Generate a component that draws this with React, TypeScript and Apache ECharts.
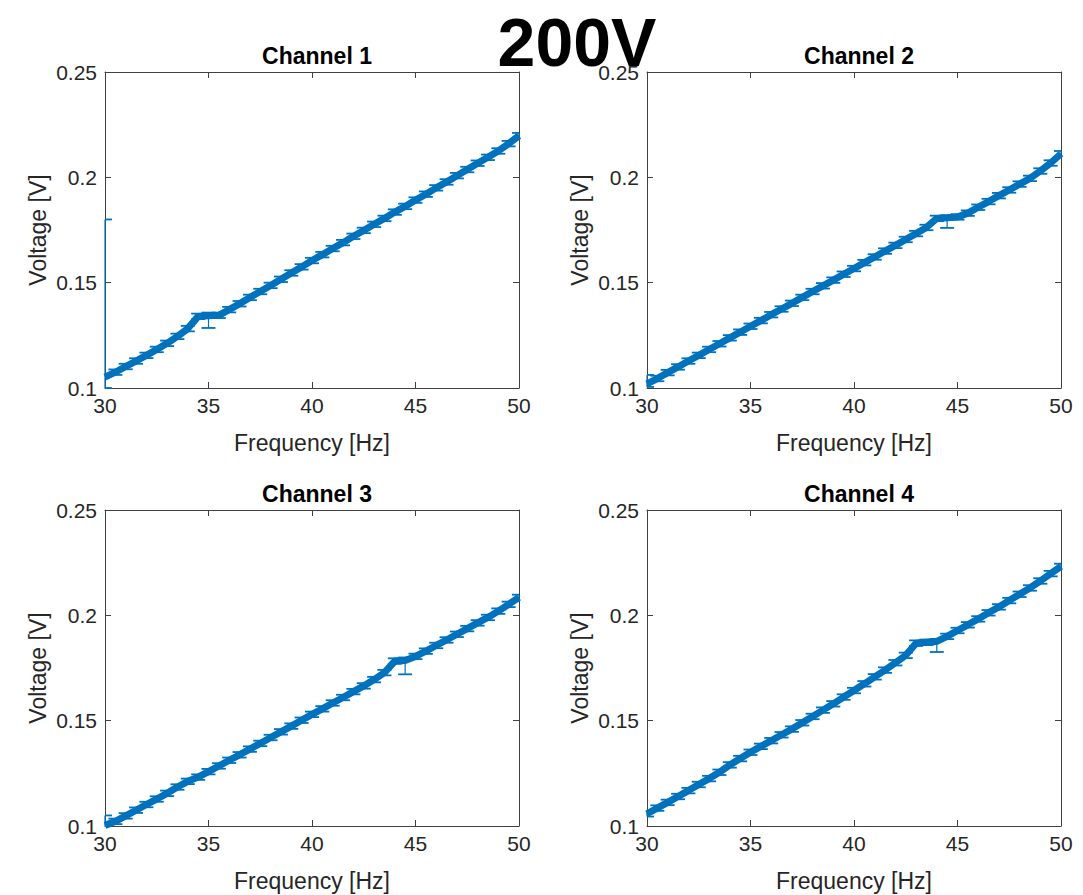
import React, { useEffect, useRef } from "react";
import * as echarts from "echarts";

// Frequency samples [Hz]
const FREQ = [
  30, 30.5, 31, 31.5, 32, 32.5, 33, 33.5, 34, 34.5, 35, 35.5, 36, 36.5, 37, 37.5, 38, 38.5, 39, 39.5,
  40, 40.5, 41, 41.5, 42, 42.5, 43, 43.5, 44, 44.5, 45, 45.5, 46, 46.5, 47, 47.5, 48, 48.5, 49, 49.5, 50,
];

// Measured voltage [V] per channel
const CH1 = [
  0.1052, 0.1075, 0.1102, 0.1128, 0.1155, 0.1183, 0.1212, 0.1245, 0.1282, 0.134, 0.1343, 0.1345, 0.1372,
  0.14, 0.143, 0.1458, 0.1487, 0.1516, 0.1546, 0.1575, 0.1605, 0.1633, 0.1662, 0.169, 0.172, 0.1748,
  0.1777, 0.1805, 0.1835, 0.1862, 0.1892, 0.192, 0.195, 0.1978, 0.2008, 0.2037, 0.2067, 0.2095, 0.2125,
  0.216, 0.2198,
];
const CH2 = [
  0.102, 0.1045, 0.1073, 0.11, 0.1128, 0.1155, 0.1183, 0.121, 0.1238, 0.1265, 0.1293, 0.132, 0.1348,
  0.1375, 0.1402, 0.143, 0.1458, 0.1485, 0.1512, 0.154, 0.1567, 0.1595, 0.1622, 0.165, 0.1677, 0.1705,
  0.1733, 0.1762, 0.1805, 0.1808, 0.1812, 0.183, 0.1858, 0.1885, 0.1913, 0.194, 0.1968, 0.1995, 0.203,
  0.2068, 0.2112,
];
const CH3 = [
  0.1003, 0.1022, 0.1048, 0.1075, 0.1102, 0.1128, 0.1155, 0.1185, 0.1212, 0.1232, 0.1258, 0.1285, 0.1312,
  0.1338, 0.1365, 0.1392, 0.142, 0.1447, 0.1474, 0.1502, 0.153, 0.1556, 0.1584, 0.161, 0.1638, 0.1665,
  0.1695, 0.1728, 0.1783, 0.1786, 0.1805, 0.183, 0.1857, 0.1883, 0.191, 0.1937, 0.1964, 0.199, 0.202,
  0.2052, 0.2085,
];
const CH4 = [
  0.1058, 0.1085, 0.1112, 0.114, 0.1168, 0.1197, 0.1225, 0.1255, 0.129, 0.132, 0.135, 0.1378, 0.1405,
  0.1433, 0.146, 0.149, 0.152, 0.155, 0.158, 0.1612, 0.1643, 0.1675, 0.1708, 0.174, 0.1775, 0.181,
  0.1868, 0.1872, 0.1876, 0.19, 0.1928, 0.1955, 0.1983, 0.2012, 0.204, 0.207, 0.21, 0.213, 0.2163,
  0.2198, 0.2232,
];

// Typical error bar half-height [V]
const DEFAULT_ERR = 0.0013;

// Wider error bars: [freq, low, high]
const CH1_WIDE = [
  [30, 0.1, 0.18],
  [35, 0.1285, 0.1358],
];
const CH2_WIDE = [
  [30, 0.1005, 0.1062],
  [44.5, 0.176, 0.182],
];
const CH3_WIDE = [
  [30, 0.1, 0.105],
  [44.5, 0.172, 0.18],
];
const CH4_WIDE = [
  [44, 0.1826, 0.1888],
];

const TITLES = ["Channel 1", "Channel 2", "Channel 3", "Channel 4"];
const X_TICKS = [30, 35, 40, 45, 50];
const Y_TICKS = [0.1, 0.15, 0.2, 0.25];

const BLUE = "#0072BD";
const AXIS = "#404040";
const TEXT = "#262626";
const FONT = "'Liberation Sans', Arial, Helvetica, sans-serif";

const GRIDS = [
  { left: 105, top: 72 },
  { left: 647, top: 72 },
  { left: 105, top: 510 },
  { left: 647, top: 510 },
];
const GW = 414;
const GH = 316;

function buildErr(values: number[], wide: number[][]) {
  return FREQ.map((f, i) => {
    const w = wide.find((r) => r[0] === f);
    if (w) return [f, values[i], w[1], w[2]];
    return [f, values[i], values[i] - DEFAULT_ERR, values[i] + DEFAULT_ERR];
  });
}

export default function App() {
  const ref = useRef<HTMLDivElement>(null);
  useEffect(() => {
    if (!ref.current) return;
    const chart = echarts.init(ref.current, undefined, { renderer: "svg" });
    const channels = [CH1, CH2, CH3, CH4];
    const wides = [CH1_WIDE, CH2_WIDE, CH3_WIDE, CH4_WIDE];

    const grid: any[] = [];
    const xAxis: any[] = [];
    const yAxis: any[] = [];
    const series: any[] = [];
    const title: any[] = [];

    GRIDS.forEach((g, i) => {
      grid.push({ left: g.left, top: g.top, width: GW, height: GH, containLabel: false });
      const common = {
        gridIndex: i,
        type: "value",
        splitLine: { show: false },
        axisLine: { show: true, onZero: false, lineStyle: { color: AXIS, width: 1 } },
        axisTick: { show: true, inside: true, length: 6, lineStyle: { color: AXIS } },
      };
      xAxis.push({
        ...common,
        position: "bottom",
        min: X_TICKS[0],
        max: X_TICKS[X_TICKS.length - 1],
        interval: 5,
        axisLabel: { show: true, fontSize: 21, color: TEXT, fontFamily: FONT, margin: 7 },
        name: "Frequency [Hz]",
        nameLocation: "middle",
        nameGap: 43,
        nameTextStyle: { fontSize: 23, color: TEXT, fontFamily: FONT },
      });
      xAxis.push({
        ...common,
        position: "top",
        min: X_TICKS[0],
        max: X_TICKS[X_TICKS.length - 1],
        interval: 5,
        axisLabel: { show: false },
      });
      yAxis.push({
        ...common,
        position: "left",
        min: Y_TICKS[0],
        max: Y_TICKS[Y_TICKS.length - 1],
        interval: 0.05,
        axisLabel: {
          show: true,
          fontSize: 21,
          color: TEXT,
          fontFamily: FONT,
          margin: 8,
          formatter: (v: number) => String(+v.toFixed(2)),
        },
        name: "Voltage [V]",
        nameLocation: "middle",
        nameGap: 56,
        nameRotate: 90,
        nameTextStyle: { fontSize: 23, color: TEXT, fontFamily: FONT },
      });
      yAxis.push({
        ...common,
        position: "right",
        min: Y_TICKS[0],
        max: Y_TICKS[Y_TICKS.length - 1],
        interval: 0.05,
        axisLabel: { show: false },
      });

      title.push({
        text: TITLES[i],
        left: g.left + GW / 2,
        top: g.top - 33,
        textAlign: "center",
        textStyle: { fontSize: 23, fontWeight: "bold", color: "#000", fontFamily: FONT },
      });

      const vals = channels[i];
      series.push({
        type: "line",
        xAxisIndex: 2 * i,
        yAxisIndex: 2 * i,
        data: FREQ.map((f, k) => [f, vals[k]]),
        showSymbol: false,
        lineStyle: { color: BLUE, width: 7 },
        itemStyle: { color: BLUE },
        z: 2,
      });
      series.push({
        type: "custom",
        xAxisIndex: 2 * i,
        yAxisIndex: 2 * i,
        data: buildErr(vals, wides[i]),
        z: 3,
        renderItem: (params: any, api: any) => {
          const x = api.value(0);
          const lo = api.value(2);
          const hi = api.value(3);
          const pLo = api.coord([x, lo]);
          const pHi = api.coord([x, hi]);
          const left = api.coord([X_TICKS[0], lo])[0];
          const right = api.coord([X_TICKS[X_TICKS.length - 1], lo])[0];
          const hw = 7;
          const x0 = Math.max(pLo[0] - hw, left);
          const x1 = Math.min(pLo[0] + hw, right);
          const style = { stroke: BLUE, lineWidth: 1.8 };
          return {
            type: "group",
            children: [
              { type: "line", shape: { x1: pLo[0], y1: pLo[1], x2: pHi[0], y2: pHi[1] }, style: { stroke: BLUE, lineWidth: 1.2 } },
              { type: "line", shape: { x1: x0, y1: pLo[1], x2: x1, y2: pLo[1] }, style },
              { type: "line", shape: { x1: x0, y1: pHi[1], x2: x1, y2: pHi[1] }, style },
            ],
          };
        },
      });
    });

    chart.setOption({
      animation: false,
      backgroundColor: "#ffffff",
      title,
      grid,
      xAxis,
      yAxis,
      series,
      graphic: [
        {
          type: "text",
          x: 577,
          y: 42,
          style: {
            text: "200V",
            fontSize: 68,
            fontWeight: "bold",
            fill: "#000",
            fontFamily: FONT,
            textAlign: "center",
            textVerticalAlign: "middle",
          },
        },
      ],
    });
    return () => chart.dispose();
  }, []);
  return (
    <div
      ref={ref}
      style={{ position: "fixed", left: 0, top: 0, width: 1083, height: 895, background: "#fff" }}
    />
  );
}
